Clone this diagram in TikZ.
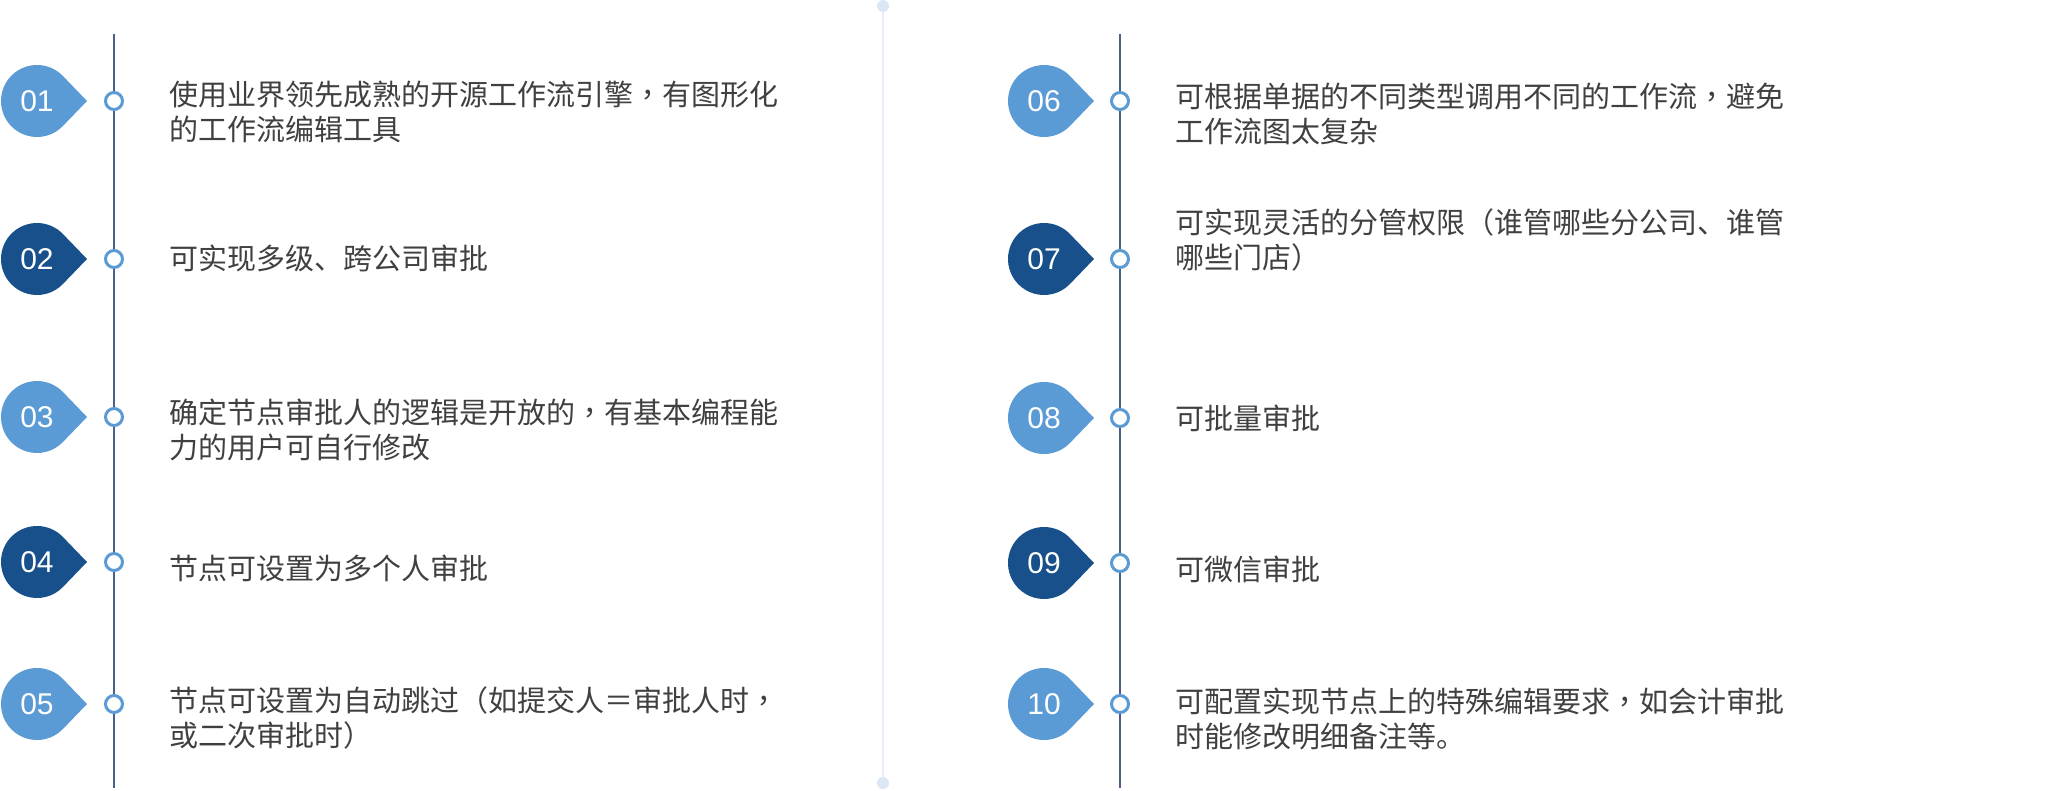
\documentclass[tikz,border=0pt]{standalone}
\usepackage{fontspec}
\setmainfont{Liberation Sans}
\newfontfamily\cjk{Noto Sans CJK SC}
\newfontfamily\cjktc{Noto Sans CJK TC}
\newfontfamily\numfont{Liberation Sans}
\definecolor{lightb}{HTML}{5B9BD5}
\definecolor{darkb}{HTML}{17508A}
\definecolor{spinec}{HTML}{4A6088}
\definecolor{divc}{HTML}{E8EFF8}
\definecolor{divdot}{HTML}{DCE7F5}
\definecolor{textc}{HTML}{404040}
\newcommand\dropmark[5]{%
  \fill[#4] ({#2+50},{#3}) -- ({#2+36*cos(44)},{#3+36*sin(44)})
    arc[start angle=44,end angle=316,radius=36] -- cycle;
  \node[num] (#1) at (#2,#3) {#5};}
\newcommand\twolines[2]{\begin{tabular}[t]{@{}l@{}}#1\\#2\end{tabular}}
\newcommand\cc{{\cjktc ，}}
\begin{document}
\begin{tikzpicture}[x=1pt,y=1pt,
  spine/.style={draw=spinec, line width=1.5pt},
  dotc/.style={circle, draw=lightb, fill=white, line width=3pt, minimum size=17pt, inner sep=0pt},
  num/.style={text=white, font=\numfont\fontsize{30}{30}\selectfont, inner sep=0pt},
  item/.style={anchor=base west, inner sep=0pt, text=textc, font=\cjk\fontsize{29}{35}\selectfont}]
\useasboundingbox[fill=white] (0,0) rectangle (2047,-790);

% centre divider
\coordinate (dvt) at (883,-6);
\coordinate (dvb) at (883,-783);
\draw[divc, line width=1.5pt] (dvt) -- (dvb);
\fill[divdot] (dvt) circle[radius=6];
\fill[divdot] (dvb) circle[radius=6];

% spines
\coordinate (lt) at (114,-34);
\coordinate (lb) at (114,-788);
\coordinate (rt) at (1120,-34);
\coordinate (rb) at (1120,-788);
\draw[spine] (lt) -- (lb);
\draw[spine] (rt) -- (rb);

% left column
\dropmark{m1}{37}{-101}{lightb}{01}
\dropmark{m2}{37}{-259}{darkb}{02}
\dropmark{m3}{37}{-417}{lightb}{03}
\dropmark{m4}{37}{-562}{darkb}{04}
\dropmark{m5}{37}{-704}{lightb}{05}
\node[dotc] (d1) at (114,-101) {};
\node[dotc] (d2) at (114,-259) {};
\node[dotc] (d3) at (114,-417) {};
\node[dotc] (d4) at (114,-562) {};
\node[dotc] (d5) at (114,-704) {};
\node[item] (t1) at (169,-105) {\twolines{使用业界领先成熟的开源工作流引擎\cc 有图形化}{的工作流编辑工具}};
\node[item] (t2) at (169,-269) {可实现多级、跨公司审批};
\node[item] (t3) at (169,-423) {\twolines{确定节点审批人的逻辑是开放的\cc 有基本编程能}{力的用户可自行修改}};
\node[item] (t4) at (169,-579) {节点可设置为多个人审批};
\node[item] (t5) at (169,-711) {\twolines{节点可设置为自动跳过（如提交人＝审批人时\cc}{或二次审批时）}};

% right column
\dropmark{m6}{1044}{-101}{lightb}{06}
\dropmark{m7}{1044}{-259}{darkb}{07}
\dropmark{m8}{1044}{-418}{lightb}{08}
\dropmark{m9}{1044}{-563}{darkb}{09}
\dropmark{m10}{1044}{-704}{lightb}{10}
\node[dotc] (d6) at (1120,-101) {};
\node[dotc] (d7) at (1120,-259) {};
\node[dotc] (d8) at (1120,-418) {};
\node[dotc] (d9) at (1120,-563) {};
\node[dotc] (d10) at (1120,-704) {};
\node[item] (t6) at (1175,-107) {\twolines{可根据单据的不同类型调用不同的工作流\cc 避免}{工作流图太复杂}};
\node[item] (t7) at (1175,-233) {\twolines{可实现灵活的分管权限（谁管哪些分公司、谁管}{哪些门店）}};
\node[item] (t8) at (1175,-429) {可批量审批};
\node[item] (t9) at (1175,-580) {可微信审批};
\node[item] (t10) at (1175,-712) {\twolines{可配置实现节点上的特殊编辑要求\cc 如会计审批}{时能修改明细备注等。}};
\end{tikzpicture}
\end{document}
